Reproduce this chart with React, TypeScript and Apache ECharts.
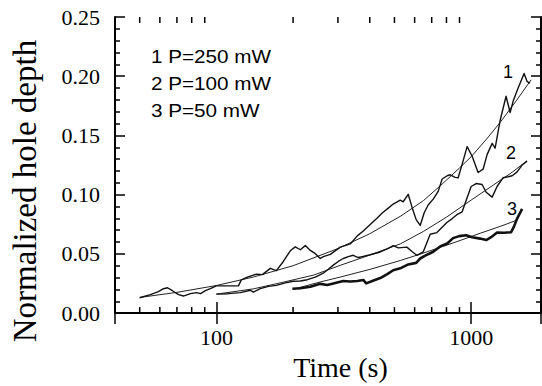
import React, { useEffect, useRef } from 'react';
import * as echarts from 'echarts';

// Axis ranges
const xMin = 40;
const xMax = 1880;
const yMin = 0;
const yMax = 0.25;
const yStep = 0.05;
const minorTicksX = [50, 60, 70, 80, 90, 200, 300, 400, 500, 600, 700, 800, 900];

const legendLines = ['1 P=250 mW', '2 P=100 mW', '3 P=50 mW'];
const curveNames = ['1', '2', '3'];

// Measured curves [time (s), normalized hole depth]
const curve1 = [
  [50, 0.013], [55.1, 0.0156], [59.2, 0.0181], [62, 0.0206], [64.3, 0.0214], [67.2, 0.0189], [71, 0.0156],
  [74.2, 0.0144], [79.1, 0.0164], [83.5, 0.0173], [86.6, 0.0164], [90.6, 0.0189], [94.7, 0.0206], [100, 0.023],
  [108.5, 0.023], [122, 0.023], [125.3, 0.028], [132.3, 0.0304], [143.5, 0.0329], [151.5, 0.0325], [162.8, 0.0378],
  [171.9, 0.0358], [183.2, 0.0436], [195, 0.0526], [204, 0.0559], [213.5, 0.0535], [223.4, 0.057], [233.8, 0.0529],
  [244.5, 0.0502], [255.7, 0.0461], [262.8, 0.0477], [280, 0.0496], [306.4, 0.0557], [335.4, 0.0584], [357.3, 0.0652],
  [377.2, 0.0693], [401.6, 0.0748], [427.8, 0.0803], [447.7, 0.0845], [472.8, 0.0886], [494.4, 0.0921], [526.8, 0.0954],
  [541, 0.094], [566.2, 0.1003], [587.2, 0.0888], [608.4, 0.0789], [631, 0.074], [654.2, 0.0847], [678, 0.0913],
  [709.7, 0.0962], [742.3, 0.1028], [769.5, 0.1132], [805.3, 0.116], [827.5, 0.1168], [865.5, 0.1146], [889.3, 0.1143],
  [922, 0.1258], [964.5, 0.1406], [1009, 0.1324], [1065, 0.1187], [1114, 0.1215], [1155, 0.1338], [1209, 0.1433],
  [1242, 0.1392], [1299, 0.1626], [1371, 0.1831], [1422, 0.1694], [1462, 0.179], [1529, 0.19], [1614, 0.2023],
  [1658, 0.1955], [1703, 0.1941],
];

const curve2 = [
  [100, 0.016], [111.4, 0.0164], [124.2, 0.0173], [136, 0.0193], [139.7, 0.0177], [148.8, 0.0206], [160, 0.0226],
  [171.9, 0.0234], [186.5, 0.0255], [200.4, 0.0269], [213.5, 0.0271], [227.5, 0.0282], [244.5, 0.0304], [262.8, 0.0337],
  [274.9, 0.037], [287.6, 0.0405], [300.9, 0.0436], [314.8, 0.0461], [329.4, 0.0477], [344.5, 0.0488], [360.5, 0.0469],
  [373.7, 0.0477], [401.6, 0.0493], [439.8, 0.0516], [468.5, 0.0543], [494.4, 0.057], [517.4, 0.0551], [559.6, 0.0557],
  [587.2, 0.0518], [612.4, 0.0488], [648.3, 0.0516], [690.6, 0.0666], [733.8, 0.068], [755.6, 0.0707], [803, 0.0765],
  [842.5, 0.0798], [878.9, 0.0831], [922, 0.0855], [961.7, 0.0968], [1000, 0.1069], [1046, 0.1094], [1104, 0.1086],
  [1145.6, 0.102], [1209, 0.0979], [1264, 0.1069], [1335, 0.1143], [1396.5, 0.1151], [1448.6, 0.116], [1515, 0.1192],
  [1585, 0.125], [1658, 0.1283],
];

const curve3 = [
  [198.7, 0.0206], [213.5, 0.021], [233.8, 0.0222], [255.7, 0.0247], [272.5, 0.0238], [292.8, 0.0255], [314.8, 0.0271],
  [335.4, 0.0267], [357.3, 0.0271], [377.2, 0.028], [387.3, 0.0251], [409.2, 0.0271], [439.8, 0.0296], [468.5, 0.0329],
  [494.4, 0.0362], [526.8, 0.0378], [566.2, 0.0411], [608.4, 0.0424], [631, 0.0461], [660, 0.0485], [709.7, 0.0518],
  [755.6, 0.0563], [805.3, 0.0588], [849.6, 0.0633], [897.4, 0.065], [955.5, 0.0658], [1009, 0.0641], [1085, 0.0629],
  [1145.6, 0.0617], [1198, 0.0641], [1264, 0.068], [1346, 0.0678], [1435, 0.0683], [1474, 0.0732], [1515, 0.0798],
  [1585, 0.088],
];

// Fitted curves
const fit1 = [
  [50, 0.0132], [70, 0.0175], [100, 0.0233], [140, 0.0305], [200, 0.04], [300, 0.0545], [400, 0.067], [530, 0.082],
  [650, 0.095], [770, 0.109], [900, 0.1225], [1000, 0.132], [1150, 0.147], [1300, 0.161], [1500, 0.179], [1720, 0.197],
];
const fit2 = [
  [100, 0.016], [140, 0.0205], [178, 0.0255], [240, 0.032], [306, 0.0403], [400, 0.049], [527, 0.0584], [650, 0.069],
  [800, 0.081], [1000, 0.0954], [1220, 0.108], [1450, 0.119], [1650, 0.1283],
];
const fit3 = [
  [200, 0.0201], [256, 0.0263], [306, 0.0304], [402, 0.037], [527, 0.0444], [631, 0.0498], [756, 0.0555], [905, 0.0613],
  [1085, 0.0674], [1300, 0.0732], [1515, 0.0785],
];

const SERIF = "'Liberation Serif', 'Times New Roman', Times, serif";
const SANS = "'Liberation Sans', Arial, Helvetica, sans-serif";
const INK = '#000';

export default function App() {
  const ref = useRef<HTMLDivElement>(null);

  useEffect(() => {
    document.body.style.margin = '0';
    const chart = echarts.init(ref.current!, null, { renderer: 'svg' });

    const lineSeries = (name: string, data: number[][], width: number, color = '#111') => ({
      name,
      type: 'line',
      data,
      showSymbol: false,
      symbol: 'none',
      lineStyle: { color, width, join: 'round' },
      z: 2,
    });

    const tickStyle = { stroke: INK, lineWidth: 1.5 };
    const labelText = (text: string, x: number, y: number) => ({
      type: 'text',
      x,
      y,
      style: { text, fontFamily: SANS, fontSize: 18, fill: INK, align: 'center', verticalAlign: 'middle' },
    });

    chart.setOption({
      animation: false,
      backgroundColor: '#fff',
      grid: { left: 114, right: 1, top: 17, bottom: 65 },
      xAxis: [
        {
          type: 'log',
          logBase: 10,
          min: xMin,
          max: xMax,
          position: 'bottom',
          axisLine: { show: true, lineStyle: { color: INK, width: 2 } },
          axisTick: { show: true, inside: true, length: 11, lineStyle: { color: INK, width: 1.5 } },
          splitLine: { show: false },
          axisLabel: {
            showMinLabel: false,
            showMaxLabel: false,
            margin: 13,
            color: INK,
            fontFamily: SERIF,
            fontSize: 22,
            formatter: (v: number) => {
              const l = Math.log10(v);
              return Math.abs(l - Math.round(l)) < 1e-6 ? String(Math.round(v)) : '';
            },
          },
          name: 'Time (s)',
          nameLocation: 'middle',
          nameGap: 34,
          nameTextStyle: { fontFamily: SERIF, fontSize: 28, color: INK, padding: [0, 0, 0, 25] },
        },
        {
          type: 'log',
          logBase: 10,
          min: xMin,
          max: xMax,
          position: 'top',
          axisLine: { show: true, lineStyle: { color: INK, width: 2 } },
          axisTick: { show: true, inside: true, length: 11, lineStyle: { color: INK, width: 1.5 } },
          axisLabel: { show: false },
          splitLine: { show: false },
        },
      ],
      yAxis: [
        {
          type: 'value',
          min: yMin,
          max: yMax,
          interval: yStep,
          position: 'left',
          axisLine: { show: true, lineStyle: { color: INK, width: 2 } },
          axisTick: { show: true, inside: true, length: 10, lineStyle: { color: INK, width: 1.5 } },
          minorTick: { show: true, splitNumber: 5, length: 5, lineStyle: { color: INK, width: 1.5 } },
          splitLine: { show: false },
          minorSplitLine: { show: false },
          axisLabel: {
            margin: 15,
            color: INK,
            fontFamily: SERIF,
            fontSize: 22,
            formatter: (v: number) => v.toFixed(2),
          },
          name: 'Normalized hole depth',
          nameLocation: 'middle',
          nameGap: 74,
          nameTextStyle: { fontFamily: SERIF, fontSize: 33, color: INK, padding: [0, 52, 0, 0] },
        },
        {
          type: 'value',
          min: yMin,
          max: yMax,
          interval: yStep,
          position: 'right',
          axisLine: { show: true, lineStyle: { color: INK, width: 2 } },
          axisTick: { show: true, inside: true, length: 10, lineStyle: { color: INK, width: 1.5 } },
          minorTick: { show: true, splitNumber: 5, length: 5, lineStyle: { color: INK, width: 1.5 } },
          splitLine: { show: false },
          minorSplitLine: { show: false },
          axisLabel: { show: false },
        },
      ],
      series: [
        lineSeries('fit 1', fit1, 1, '#222'),
        lineSeries('fit 2', fit2, 1, '#222'),
        lineSeries('fit 3', fit3, 1, '#222'),
        lineSeries(legendLines[0], curve1, 1.4),
        lineSeries(legendLines[1], curve2, 1.4),
        lineSeries(legendLines[2], curve3, 2.6),
        {
          name: 'minor ticks',
          type: 'custom',
          silent: true,
          clip: false,
          z: 3,
          data: minorTicksX.map((t) => [t, yMin]),
          encode: { x: 0, y: 1 },
          renderItem: (_params: any, api: any) => {
            const t = api.value(0);
            const b = api.coord([t, yMin]);
            const tp = api.coord([t, yMax]);
            return {
              type: 'group',
              children: [
                { type: 'line', shape: { x1: b[0], y1: b[1], x2: b[0], y2: b[1] - 6 }, style: tickStyle },
                { type: 'line', shape: { x1: tp[0], y1: tp[1], x2: tp[0], y2: tp[1] + 6 }, style: tickStyle },
              ],
            };
          },
        },
      ],
      graphic: [
        ...legendLines.map((s, i) => ({
          type: 'text',
          x: 151,
          y: 57 + 27 * i,
          scaleX: 1.15,
          style: { text: s, fontFamily: SANS, fontSize: 18, fill: INK, verticalAlign: 'middle', align: 'left' },
        })),
        labelText(curveNames[0], 508, 72),
        labelText(curveNames[1], 511, 153),
        labelText(curveNames[2], 512, 209),
      ],
    });

    return () => chart.dispose();
  }, []);

  return (
    <div
      ref={ref}
      style={{ position: 'absolute', left: 0, top: 0, width: 542, height: 386, background: '#fff' }}
    />
  );
}
